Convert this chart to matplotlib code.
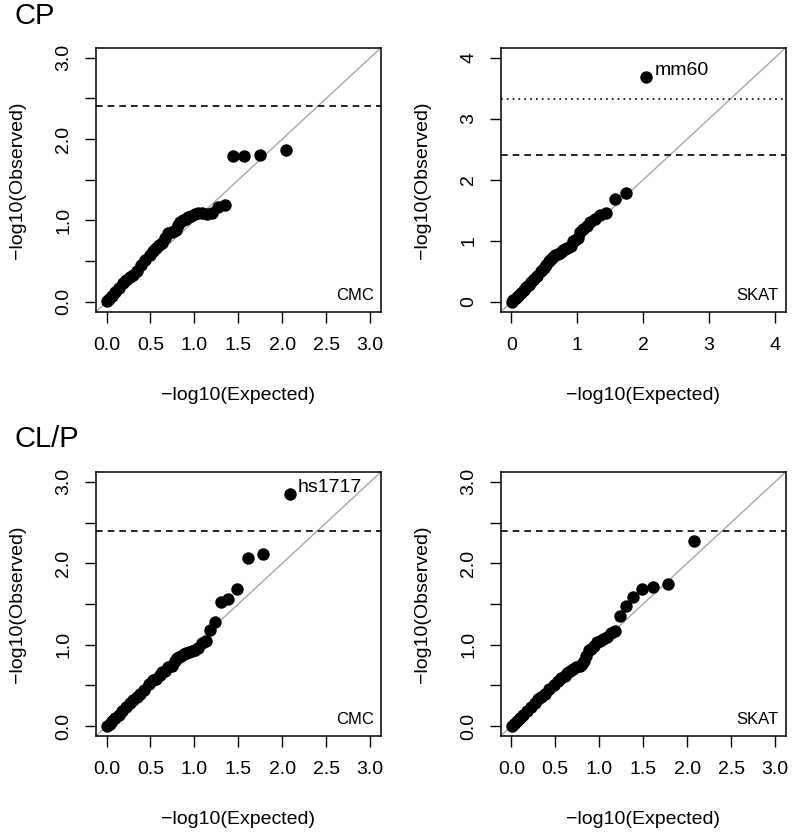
import matplotlib
matplotlib.use("Agg")
import matplotlib.pyplot as plt

plt.rcParams['font.family'] = ['Liberation Sans', 'DejaVu Sans']

# expected -log10 p (n ~ 110 for CP, n ~ 120 for CL/P)
exp_cp = [2.045, 1.744, 1.568, 1.443, 1.346, 1.267, 1.200, 1.142, 1.091, 1.045,
          1.004, 0.966, 0.931, 0.899, 0.869, 0.841, 0.815, 0.790, 0.767, 0.744,
          0.703, 0.665, 0.630, 0.598, 0.568, 0.527, 0.489, 0.443, 0.392, 0.346,
          0.305, 0.267, 0.226, 0.188, 0.142, 0.101, 0.063, 0.028, 0.004]
exp_clp = [2.083, 1.782, 1.606, 1.481, 1.384, 1.305, 1.238, 1.180, 1.129, 1.083,
           1.041, 1.004, 0.969, 0.937, 0.907, 0.879, 0.852, 0.828, 0.804, 0.782,
           0.740, 0.703, 0.668, 0.636, 0.606, 0.564, 0.527, 0.481, 0.430, 0.384,
           0.342, 0.305, 0.264, 0.225, 0.180, 0.138, 0.100, 0.066, 0.034, 0.004]

# observed -log10 p
obs_cp_cmc = [1.87, 1.81, 1.79, 1.79, 1.19, 1.16, 1.09, 1.08, 1.09, 1.09,
              1.08, 1.06, 1.04, 1.02, 1.00, 0.98, 0.94, 0.88, 0.87, 0.86,
              0.84, 0.78, 0.72, 0.70, 0.66, 0.62, 0.57, 0.52, 0.45, 0.38,
              0.33, 0.30, 0.27, 0.23, 0.17, 0.12, 0.07, 0.03, 0.01]
obs_cp_skat = [3.68, 1.79, 1.69, 1.45, 1.42, 1.35, 1.30, 1.25, 1.20, 1.15,
               1.05, 1.02, 1.00, 0.92, 0.90, 0.88, 0.86, 0.85, 0.83, 0.80,
               0.78, 0.76, 0.73, 0.71, 0.67, 0.60, 0.56, 0.51, 0.43, 0.38,
               0.32, 0.28, 0.24, 0.20, 0.15, 0.10, 0.06, 0.03, 0.00]
obs_clp_cmc = [2.85, 2.11, 2.07, 1.68, 1.56, 1.52, 1.28, 1.18, 1.04, 1.02,
               0.96, 0.93, 0.92, 0.91, 0.90, 0.88, 0.86, 0.85, 0.84, 0.80,
               0.74, 0.72, 0.68, 0.66, 0.63, 0.58, 0.56, 0.52, 0.44, 0.40,
               0.36, 0.32, 0.28, 0.24, 0.18, 0.14, 0.10, 0.06, 0.03, 0.00]
obs_clp_skat = [2.27, 1.74, 1.71, 1.68, 1.58, 1.47, 1.35, 1.17, 1.14, 1.10,
                1.07, 1.05, 1.03, 0.98, 0.95, 0.93, 0.86, 0.80, 0.76, 0.74,
                0.72, 0.70, 0.68, 0.65, 0.62, 0.59, 0.55, 0.51, 0.46, 0.40,
                0.36, 0.33, 0.28, 0.24, 0.19, 0.14, 0.10, 0.06, 0.03, 0.00]

sig_line = 2.4
bonf_line = 3.33

fig = plt.figure(figsize=(8, 8.4), dpi=100)

panels = [
    # left, bottom, x, y, label, max, top label
    (0.12, 0.629, exp_cp, obs_cp_cmc, "CMC", 3, None),
    (0.626, 0.629, exp_cp, obs_cp_skat, "SKAT", 4, "mm60"),
    (0.12, 0.124, exp_clp, obs_clp_cmc, "CMC", 3, "hs1717"),
    (0.626, 0.124, exp_clp, obs_clp_skat, "SKAT", 3, None),
]

fs = 14
for i, (l, b, x, y, name, mx, lab) in enumerate(panels):
    ax = fig.add_axes([l, b, 0.356, 0.314])
    pad = 0.04 * mx
    ax.set_xlim(-pad, mx + pad)
    ax.set_ylim(-pad, mx + pad)
    ax.plot([-pad, mx + pad], [-pad, mx + pad], color="#a8a8a8", lw=1.0, zorder=1)
    ax.axhline(sig_line, color="black", ls=(0, (4, 3)), lw=1.2)
    if mx == 4:
        ax.axhline(bonf_line, color="black", ls=(0, (1, 2.5)), lw=1.2)
    ax.scatter(x, y, s=80, color="black", zorder=3, linewidths=0)
    if lab:
        ax.annotate(lab, (x[0], y[0]), xytext=(6, 5), textcoords="offset points",
                    ha="left", va="center", fontsize=fs)
    ax.text(0.975, 0.032, name, transform=ax.transAxes, ha="right", va="bottom",
            fontsize=12)

    if mx == 4:
        ticks = [0, 1, 2, 3, 4]
        xl = [str(t) for t in ticks]
        yl = xl
    else:
        ticks = [0, 0.5, 1.0, 1.5, 2.0, 2.5, 3.0]
        xl = ["%.1f" % t for t in ticks]
        yl = ["%.1f" % t if t == int(t) else "" for t in ticks]
    ax.set_xticks(ticks)
    ax.set_xticklabels(xl)
    ax.set_yticks(ticks)
    ax.set_yticklabels(yl, rotation=90, va="center")
    ax.tick_params(direction="out", length=8, width=1.0, labelsize=fs)
    ax.tick_params(axis="x", pad=10)
    ax.tick_params(axis="y", pad=9)
    for sp in ax.spines.values():
        sp.set_linewidth(1.1)

    ax.set_xlabel("\u2212log10(Expected)", fontsize=fs)
    ax.set_ylabel("\u2212log10(Observed)", fontsize=fs)
    ax.xaxis.set_label_coords(0.5, -0.285)
    ax.yaxis.set_label_coords(-0.245, 0.5)

fig.text(15 / 800, 1 - 16 / 840, "CP", fontsize=21, ha="left", va="center")
fig.text(15 / 800, 1 - 439 / 840, "CL/P", fontsize=21, ha="left", va="center")

fig.savefig("out.png", dpi=100)
